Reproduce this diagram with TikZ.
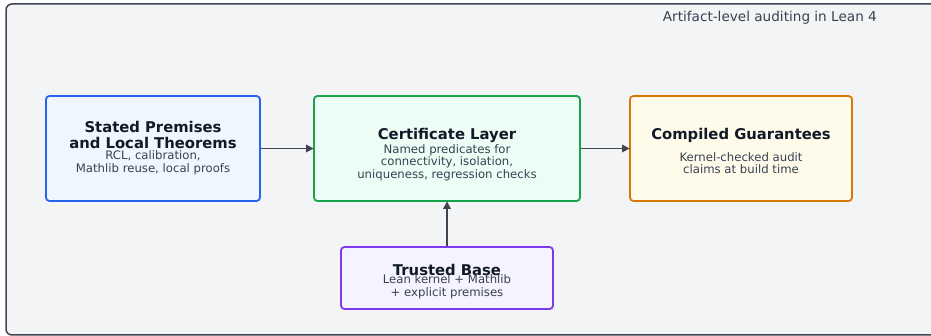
\documentclass[tikz,border=0pt]{standalone}
\usepackage{fontspec}
\setmainfont{DejaVu Sans}
\usetikzlibrary{arrows.meta}
\definecolor{framebg}{HTML}{F3F4F6}
\definecolor{framedraw}{HTML}{3F4452}
\definecolor{bluedraw}{HTML}{2563EB}
\definecolor{bluefill}{HTML}{EFF6FF}
\definecolor{greendraw}{HTML}{16A34A}
\definecolor{greenfill}{HTML}{ECFDF5}
\definecolor{orangedraw}{HTML}{D97706}
\definecolor{orangefill}{HTML}{FFFBEB}
\definecolor{purpledraw}{HTML}{7C3AED}
\definecolor{purplefill}{HTML}{F5F3FF}
\definecolor{titletext}{HTML}{111827}
\definecolor{subtext}{HTML}{374151}
\definecolor{arrowcol}{HTML}{3F4452}
\tikzset{
  box/.style={draw, line width=1.8pt, rounded corners=3.5pt, inner sep=0pt},
  ttl/.style={font=\fontsize{14.8}{16}\selectfont\bfseries, text=titletext, align=center, inner sep=0pt},
  sub/.style={font=\fontsize{11.7}{12.6}\selectfont, text=subtext, align=center, inner sep=0pt},
  conn/.style={draw=arrowcol, line width=1.6pt, -{Triangle[length=7.5pt,width=7.5pt]}, shorten >=-0.5pt}
}
\begin{document}
\begin{tikzpicture}[x=1pt,y=-1pt]
\useasboundingbox (0,0) rectangle (931,336);
\draw[fill=framebg, draw=framedraw, line width=1.5pt, rounded corners=6pt] (6,4) rectangle (945,335);
\node[anchor=east, font=\fontsize{13.6}{15}\selectfont, text=subtext, inner sep=0pt] (hdr) at (877,18) {Artifact-level auditing in Lean 4};

\node[box, draw=bluedraw, fill=bluefill, minimum width=214pt, minimum height=105pt] (stated) at (153,148.5) {};
\node[ttl] (statedT) at (153,135) {Stated Premises\\and Local Theorems};
\node[sub] (statedS) at (153,162.5) {RCL, calibration,\\Mathlib reuse, local proofs};

\node[box, draw=greendraw, fill=greenfill, minimum width=266pt, minimum height=105pt] (cert) at (447,148.5) {};
\node[ttl] (certT) at (447,135) {Certificate Layer};
\node[sub] (certS) at (447,162.5) {Named predicates for\\connectivity, isolation,\\uniqueness, regression checks};

\node[box, draw=orangedraw, fill=orangefill, minimum width=222pt, minimum height=105pt] (comp) at (741,148.5) {};
\node[ttl] (compT) at (741,135) {Compiled Guarantees};
\node[sub] (compS) at (741,163) {Kernel-checked audit\\claims at build time};

\node[box, draw=purpledraw, fill=purplefill, minimum width=212pt, minimum height=62pt] (trust) at (447,278) {};
\node[ttl] (trustT) at (447,270) {Trusted Base};
\node[sub] (trustS) at (447,286.5) {Lean kernel + Mathlib\\+ explicit premises};

\draw[conn] (stated.east) -- (cert.west);
\draw[conn] (cert.east) -- (comp.west);
\draw[conn] (trust.north) -- (cert.south);
\end{tikzpicture}
\end{document}
